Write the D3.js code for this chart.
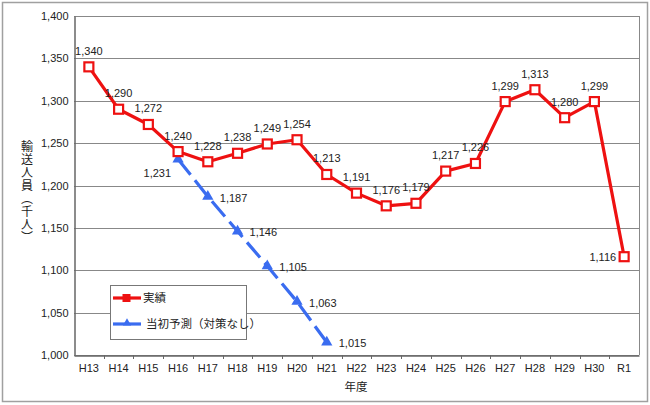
<!DOCTYPE html>
<html><head><meta charset="utf-8">
<script src="https://cdn.jsdelivr.net/npm/d3@7"></script>
<style>
html,body{margin:0;padding:0;background:#fff;}
text{font-family:"Liberation Sans","Noto Sans CJK JP",sans-serif;}
</style></head>
<body>
<svg id="c" width="650" height="405"></svg>
<script>
const categories = ["H13","H14","H15","H16","H17","H18","H19","H20","H21","H22","H23","H24","H25","H26","H27","H28","H29","H30","R1"];
const actual = [1340,1290,1272,1240,1228,1238,1249,1254,1213,1191,1176,1179,1217,1226,1299,1313,1280,1299,1116];
const forecastCats = ["H16","H17","H18","H19","H20","H21"];
const forecast = [1231,1187,1146,1105,1063,1015];
const yTicks = [1000,1050,1100,1150,1200,1250,1300,1350,1400];
const seriesNames = ["実績","当初予測（対策なし）"];
const yTitle = "輸送人員（千人）";
const xTitle = "年度";

const svg = d3.select("#c");
const L=74, R=639, T=16, B=355;
const red="#ee1111", blue="#3a6cf0";

svg.append("rect").attr("x",2.5).attr("y",2.5).attr("width",645).attr("height",399)
  .attr("fill","#fff").attr("stroke","#a0a0a0").attr("stroke-width",1.5);

const x = d3.scaleBand().domain(categories).range([L,R]);
const y = d3.scaleLinear().domain([1000,1400]).range([B,T]);
const cx = c => x(c)+x.bandwidth()/2;

// gridlines
svg.append("g").selectAll("line").data(yTicks).join("line")
  .attr("x1",L).attr("x2",R).attr("y1",d=>Math.round(y(d))+0.5).attr("y2",d=>Math.round(y(d))+0.5)
  .attr("stroke","#888").attr("stroke-width",1);
// right border
svg.append("line").attr("x1",R+0.5).attr("x2",R+0.5).attr("y1",T).attr("y2",B).attr("stroke","#888");

// y axis
const yAx = svg.append("g").attr("transform",`translate(${L+0.5},0)`)
  .call(d3.axisLeft(y).tickValues(yTicks).tickSize(0).tickPadding(6).tickFormat(d3.format(",")));
yAx.select(".domain").attr("stroke","#666").attr("stroke-width",1.5);
yAx.selectAll("text").attr("font-size",11).attr("fill","#222").style("font-family","Liberation Sans, sans-serif");

// x axis
const xAx = svg.append("g").attr("transform",`translate(0,${B+0.5})`)
  .call(d3.axisBottom(x).tickSize(0).tickPadding(9));
xAx.select(".domain").attr("stroke","#666").attr("stroke-width",1.5);
xAx.selectAll("text").attr("font-size",11).attr("fill","#222");
// boundary ticks
svg.append("g").selectAll("line").data(categories.slice(1)).join("line")
  .attr("x1",d=>Math.round(x(d))+0.5).attr("x2",d=>Math.round(x(d))+0.5)
  .attr("y1",B).attr("y2",B+4).attr("stroke","#666");

// titles
svg.append("text").attr("x",27).attr("y",140).attr("font-size",12).attr("fill","#222")
  .style("writing-mode","vertical-rl").style("letter-spacing","1px")
  .style("font-family","Noto Sans CJK JP, sans-serif").text(yTitle);
svg.append("text").attr("x",356).attr("y",391).attr("text-anchor","middle").attr("font-size",11.5)
  .attr("fill","#222").style("font-family","Noto Sans CJK JP, sans-serif").text(xTitle);

// forecast line
const fdata = forecastCats.map((c,i)=>({c,v:forecast[i]}));
svg.append("path").datum(fdata)
  .attr("d",d3.line().x(d=>cx(d.c)).y(d=>y(d.v)))
  .attr("fill","none").attr("stroke",blue).attr("stroke-width",3.2)
  .attr("stroke-dasharray","20,7");
const tri = d3.symbol().type(d3.symbolTriangle).size(55);
svg.append("g").selectAll("path").data(fdata).join("path")
  .attr("d",tri).attr("transform",d=>`translate(${cx(d.c)},${y(d.v)})`).attr("fill",blue);

// actual line
const adata = categories.map((c,i)=>({c,v:actual[i]}));
svg.append("path").datum(adata)
  .attr("d",d3.line().x(d=>cx(d.c)).y(d=>y(d.v)))
  .attr("fill","none").attr("stroke",red).attr("stroke-width",3.2).attr("stroke-linejoin","round");
svg.append("g").selectAll("rect").data(adata).join("rect")
  .attr("x",d=>cx(d.c)-4.5).attr("y",d=>y(d.v)-4.5).attr("width",9).attr("height",9)
  .attr("fill","#fff").attr("stroke",red).attr("stroke-width",2.2);

// labels
const fmt = d3.format(",");
svg.append("g").selectAll("text").data(adata).join("text")
  .attr("x",(d,i)=> i===18 ? cx(d.c)-8 : cx(d.c))
  .attr("y",(d,i)=> i===18 ? y(d.v)+4 : y(d.v)-12)
  .attr("text-anchor",(d,i)=> i===18 ? "end":"middle")
  .attr("font-size",11).attr("fill","#222").text(d=>fmt(d.v));
svg.append("g").selectAll("text").data(fdata).join("text")
  .attr("x",(d,i)=> i===0 ? cx(d.c)-7 : cx(d.c)+12)
  .attr("y",(d,i)=> i===0 ? y(d.v)+18 : y(d.v)+5)
  .attr("text-anchor",(d,i)=> i===0 ? "end":"start")
  .attr("font-size",11).attr("fill","#222").text(d=>fmt(d.v));

// legend
const lg = svg.append("g");
lg.append("rect").attr("x",110.5).attr("y",285.5).attr("width",136).attr("height",54)
  .attr("fill","#fff").attr("stroke","#777");
lg.append("line").attr("x1",113).attr("x2",141).attr("y1",298).attr("y2",298).attr("stroke",red).attr("stroke-width",3.2);
lg.append("rect").attr("x",122.5).attr("y",294).attr("width",8).attr("height",8).attr("fill",red);
lg.append("line").attr("x1",113).attr("x2",141).attr("y1",324).attr("y2",324).attr("stroke",blue).attr("stroke-width",3.2);
lg.append("path").attr("d",d3.symbol().type(d3.symbolTriangle).size(30)).attr("transform","translate(127,323)").attr("fill",blue);
lg.selectAll("text.l").data(seriesNames).join("text").attr("class","l")
  .attr("x",(d,i)=> i===0?143:146).attr("y",(d,i)=> i===0?302:328)
  .attr("font-size",11.5).attr("fill","#222").style("font-family","Noto Sans CJK JP, sans-serif").text(d=>d);
</script>
</body></html>
